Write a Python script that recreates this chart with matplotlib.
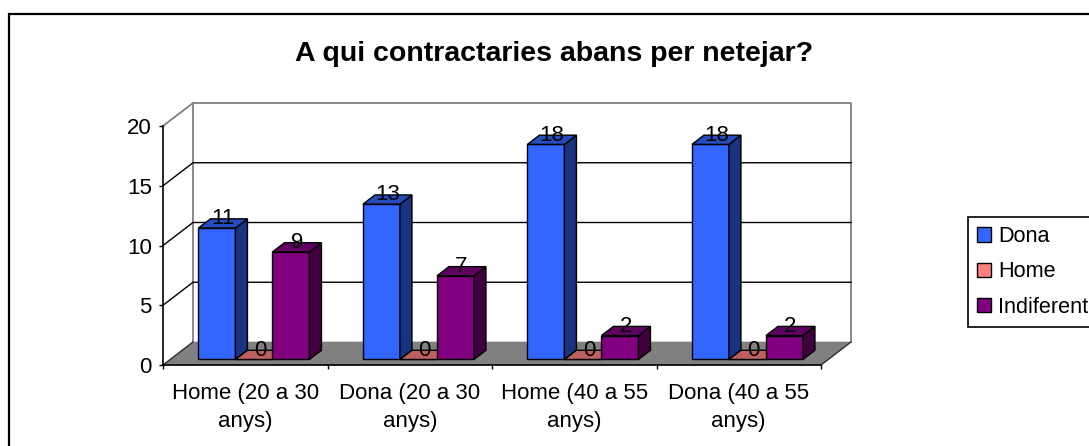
import matplotlib
matplotlib.use("Agg")
import matplotlib.pyplot as plt
from matplotlib.patches import Polygon, Rectangle

plt.rcParams["font.family"] = ["Liberation Sans", "DejaVu Sans"]

categories = ["Home (20 a 30\nanys)", "Dona (20 a 30\nanys)", "Home (40 a 55\nanys)", "Dona (40 a 55\nanys)"]
series_names = ["Dona", "Home", "Indiferent"]
dona = [11, 13, 18, 18]
home = [0, 0, 0, 0]
indiferent = [9, 7, 2, 2]
y_ticks = [0, 5, 10, 15, 20]

W, H = 1089, 446
# face, side, top colours per series
COLORS = [("#3366FF", "#1A3380", "#264DBF"),
          ("#FF8080", "#804040", "#BF6060"),
          ("#800080", "#400040", "#600060")]

fig = plt.figure(figsize=(W / 100, H / 100), dpi=100, facecolor="white")
# outer chart frame runs off the image on the right and bottom
fig.add_artist(Rectangle((8.5 / W, -0.1), 1.2, 1.1 - 13.5 / H, transform=fig.transFigure,
                         fc="none", ec="black", lw=1.6))

ax = fig.add_axes([163 / W, (H - 365) / H, 658 / W, 239 / H])
ax.set_xlim(0, 4)
ax.set_ylim(0, 20)
ax.patch.set_visible(False)

# depth of the 3d box in data units
DX = 30 / 164.5
DY = 23 / 11.95
BAR_W = 37 / 164.5
GROUP_OFF = (1 - 3 * BAR_W) / 2 + 1.5 / 164.5
D0, D1 = 0.24, 0.64


def poly(pts, fc, ec="black", lw=1.0, z=2):
    ax.add_patch(Polygon(pts, closed=True, fc=fc, ec=ec, lw=lw, zorder=z, clip_on=False))


# floor
poly([(0, 0), (4, 0), (4 + DX, DY), (DX, DY)], "#808080", ec="#808080", lw=0.5, z=1)
# walls
ax.plot([DX, DX, 4 + DX, 4 + DX], [DY, 20 + DY, 20 + DY, DY], color="#808080", lw=1.3, zorder=1, clip_on=False)
ax.plot([0, DX], [20, 20 + DY], color="#808080", lw=1.3, zorder=1, clip_on=False)
for v in y_ticks[1:-1]:
    ax.plot([0, DX, 4 + DX], [v, v + DY, v + DY], color="black", lw=1.0, zorder=1, clip_on=False)
ax.plot([4, 4 + DX], [0, DY], color="#303030", lw=1.0, zorder=1, clip_on=False)
ax.plot([0, DX], [0, DY], color="#303030", lw=1.0, zorder=1, clip_on=False)

for i in range(len(categories)):
    for s, values in enumerate([dona, home, indiferent]):
        v = values[i]
        face, side, top = COLORS[s]
        x0 = i + GROUP_OFF + s * BAR_W
        x1 = x0 + BAR_W
        dx0, dy0 = D0 * DX, D0 * DY
        dx1, dy1 = D1 * DX, D1 * DY
        z = 3 + s * 0.1 + i
        ax.bar(x0 + dx0, v, BAR_W, bottom=dy0, align="edge", color=face, edgecolor="black",
               lw=1.0, zorder=z, clip_on=False)
        if v > 0:
            poly([(x1 + dx0, dy0), (x1 + dx1, dy1), (x1 + dx1, v + dy1), (x1 + dx0, v + dy0)], side, z=z)
        poly([(x0 + dx0, v + dy0), (x1 + dx0, v + dy0), (x1 + dx1, v + dy1), (x0 + dx1, v + dy1)], top, z=z)
        ax.text((x0 + x1) / 2 + (dx0 + dx1) / 2, v + dy1, str(v), ha="center", va="center",
                fontsize=16, color="black", zorder=30, clip_on=False)

ax.set_yticks(y_ticks)
ax.set_xticks(range(5))
ax.set_xticklabels([])
ax.set_xticks([i + 0.5 for i in range(4)], categories, minor=True)
ax.tick_params(axis="x", which="major", length=3, width=1.0, color="black")
ax.tick_params(axis="x", which="minor", length=0, pad=13, labelsize=16)
ax.tick_params(axis="y", length=3, width=1.0, pad=5, labelsize=16)
for label in ax.get_xticklabels(minor=True):
    label.set_linespacing(1.45)
for name in ("top", "right"):
    ax.spines[name].set_visible(False)
for name in ("left", "bottom"):
    ax.spines[name].set_linewidth(1.2)
    ax.spines[name].set_zorder(2.5)

fig.text(554 / W, 1 - 54 / H, "A qui contractaries abans per netejar?", ha="center", va="center",
         fontsize=20.5, fontweight="bold")

handles = [Rectangle((0, 0), 1, 1, fc=COLORS[s][0], ec="black", lw=1.0) for s in range(3)]
leg = fig.legend(handles, series_names, loc="upper left", bbox_to_anchor=(968 / W, 1 - 217 / H),
                 bbox_transform=fig.transFigure, fontsize=15.6, frameon=True, fancybox=False,
                 framealpha=1, edgecolor="black", borderaxespad=0, borderpad=0.42,
                 handlelength=0.64, handleheight=0.64, handletextpad=0.32, labelspacing=0.66)
leg.get_frame().set_linewidth(1.2)

fig.savefig("out.png", dpi=100)
